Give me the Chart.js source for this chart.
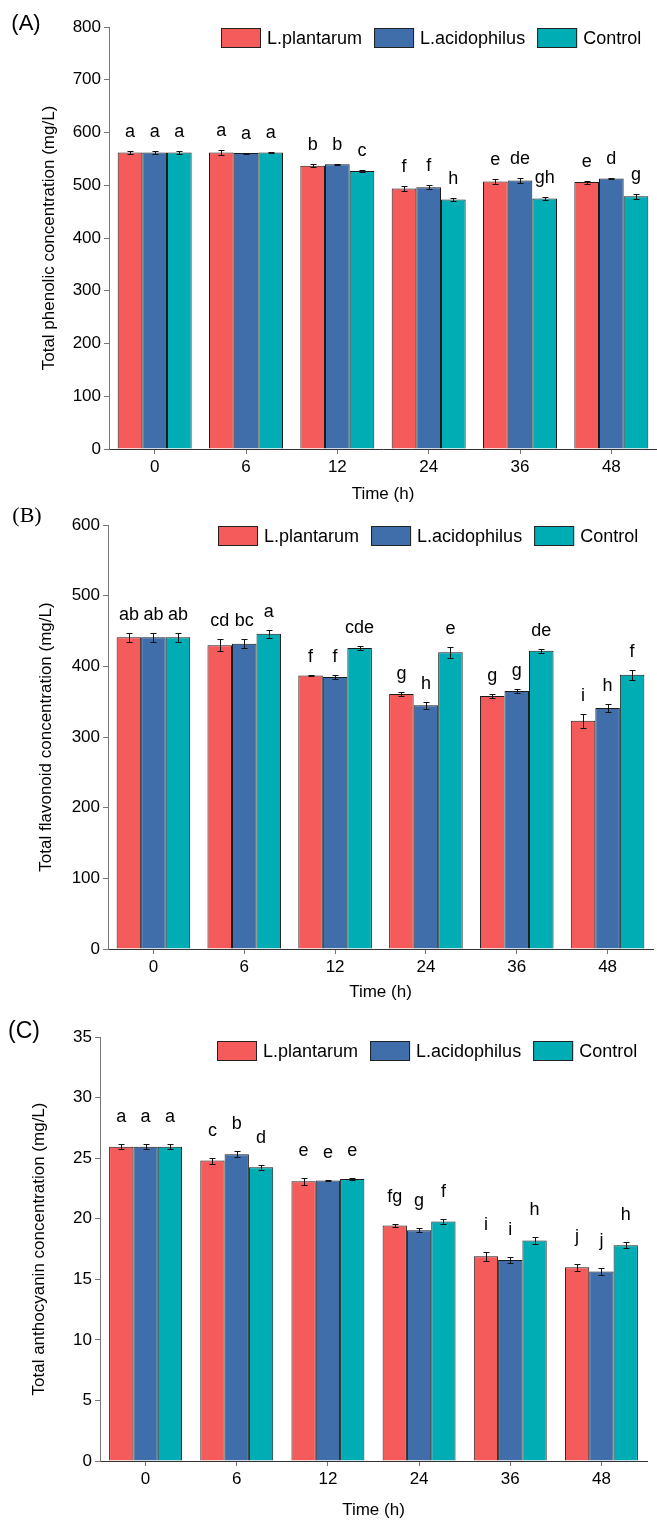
<!DOCTYPE html>
<html>
<head>
<meta charset="utf-8">
<title>Phenolic, flavonoid and anthocyanin concentration</title>
<script src="https://cdn.jsdelivr.net/npm/chart.js@4.4.1/dist/chart.umd.min.js"></script>
<style>
  body { margin: 0; background: #fff; }
  .panel { position: absolute; left: 0; }
</style>
</head>
<body>
<div class="panel" style="top:0px"><canvas id="chartA" width="657" height="505"></canvas></div>
<div class="panel" style="top:505px"><canvas id="chartB" width="657" height="500"></canvas></div>
<div class="panel" style="top:1005px"><canvas id="chartC" width="657" height="516"></canvas></div>

<script>
// categories + series
const times = ['0', '6', '12', '24', '36', '48'];
const seriesNames = ['L.plantarum', 'L.acidophilus', 'Control'];
const seriesColors = ['#F65B5C', '#3F6EAB', '#00ADB5'];

// (A) total phenolic, mg/L
const phenolPlantarum = [562, 562, 537, 494, 507, 506];
const phenolAcidophilus = [562, 561, 540, 496, 509, 513];
const phenolControl = [562, 562, 527, 473, 475, 479];
const phenolPlantarumErr = [2, 5, 3, 4, 4, 3];
const phenolAcidophilusErr = [2, 1, 1, 4, 5, 1];
const phenolControlErr = [2, 1, 1, 3, 3, 5];
const phenolPlantarumLetters = ['a', 'a', 'b', 'f', 'e', 'e'];
const phenolAcidophilusLetters = ['a', 'a', 'b', 'f', 'de', 'd'];
const phenolControlLetters = ['a', 'a', 'c', 'h', 'gh', 'g'];

// (B) total flavonoid, mg/L
const flavPlantarum = [441, 430, 387, 361, 358, 323];
const flavAcidophilus = [441, 432, 385, 345, 365, 341];
const flavControl = [441, 446, 426, 420, 422, 388];
const flavPlantarumErr = [6, 8, 0.5, 3, 3, 10];
const flavAcidophilusErr = [6, 6, 3, 5, 3, 5];
const flavControlErr = [6, 6, 3, 8, 3, 7];
const flavPlantarumLetters = ['ab', 'cd', 'f', 'g', 'g', 'i'];
const flavAcidophilusLetters = ['ab', 'bc', 'f', 'h', 'g', 'h'];
const flavControlLetters = ['ab', 'a', 'cde', 'e', 'de', 'f'];

// (C) total anthocyanin, mg/L
const anthoPlantarum = [25.95, 24.8, 23.1, 19.45, 16.9, 16.0];
const anthoAcidophilus = [25.95, 25.33, 23.15, 19.05, 16.6, 15.65];
const anthoControl = [25.95, 24.25, 23.28, 19.78, 18.2, 17.8];
const anthoPlantarumErr = [0.2, 0.25, 0.3, 0.1, 0.35, 0.3];
const anthoAcidophilusErr = [0.2, 0.25, 0.05, 0.15, 0.25, 0.3];
const anthoControlErr = [0.2, 0.2, 0.12, 0.22, 0.25, 0.25];
const anthoPlantarumLetters = ['a', 'c', 'e', 'fg', 'i', 'j'];
const anthoAcidophilusLetters = ['a', 'b', 'e', 'g', 'i', 'j'];
const anthoControlLetters = ['a', 'd', 'e', 'f', 'h', 'h'];

const FONT = "'Liberation Sans', Arial, sans-serif";
const W = 657;

// error bars, significance letters, legend and panel tag
const extrasPlugin = {
  id: 'panelExtras',
  afterDatasetsDraw(chart, args, opts) {
    const ctx = chart.ctx;
    const yScale = chart.scales.y;
    ctx.save();

    chart.data.datasets.forEach((ds, i) => {
      const meta = chart.getDatasetMeta(i);
      meta.data.forEach((bar, j) => {
        const v = ds.data[j];
        const e = opts.errors[i][j];
        const yHi = Math.round(yScale.getPixelForValue(v + e)) + 0.5;
        const yLo = Math.round(yScale.getPixelForValue(v - e)) + 0.5;
        const x = Math.round(bar.x) + 0.5;
        ctx.strokeStyle = '#111';
        ctx.lineWidth = 1;
        ctx.beginPath();
        ctx.moveTo(x, yHi); ctx.lineTo(x, yLo);
        ctx.moveTo(x - 3, yHi); ctx.lineTo(x + 3, yHi);
        ctx.moveTo(x - 3, yLo); ctx.lineTo(x + 3, yLo);
        ctx.stroke();

        ctx.fillStyle = '#000';
        ctx.font = '18px ' + FONT;
        ctx.textAlign = 'center';
        ctx.textBaseline = 'alphabetic';
        ctx.fillText(opts.letters[i][j], bar.x, yHi - opts.letterGap);
      });
    });

    // legend
    let lx = opts.legendX;
    const ly = opts.legendY;
    ctx.font = '18px ' + FONT;
    ctx.textAlign = 'left';
    ctx.textBaseline = 'middle';
    seriesNames.forEach((name, i) => {
      ctx.fillStyle = seriesColors[i];
      ctx.fillRect(lx, ly, 40, 20);
      ctx.strokeStyle = '#222';
      ctx.strokeRect(lx + 0.5, ly + 0.5, 39, 19);
      ctx.fillStyle = '#000';
      ctx.fillText(name, lx + 46, ly + 11);
      lx += 46 + ctx.measureText(name).width + 12;
    });

    // panel tag
    ctx.font = opts.tagFont;
    ctx.textAlign = 'center';
    ctx.textBaseline = 'middle';
    ctx.fillStyle = '#000';
    ctx.fillText(opts.tag, opts.tagX, opts.tagY);

    ctx.restore();
  }
};

function makeChart(canvasId, spec) {
  const H = document.getElementById(canvasId).height;
  const datasets = spec.values.map((vals, i) => ({
    label: seriesNames[i],
    data: vals,
    backgroundColor: seriesColors[i],
    borderColor: '#1b1b1b',
    borderWidth: 1,
    barPercentage: 1.0,
    categoryPercentage: spec.catPct
  }));
  const tickFont = { family: FONT, size: 17 };
  const titleFont = { family: FONT, size: 17 };

  return new Chart(document.getElementById(canvasId), {
    type: 'bar',
    data: { labels: times, datasets: datasets },
    options: {
      responsive: false,
      animation: false,
      devicePixelRatio: 1,
      layout: { padding: { top: spec.area.top, right: W - spec.area.right, left: 0, bottom: 0 } },
      plugins: {
        legend: { display: false },
        tooltip: { enabled: false },
        panelExtras: {
          errors: spec.errors,
          letters: spec.letters,
          letterGap: spec.letterGap,
          legendX: spec.legendX,
          legendY: spec.legendY,
          tag: spec.tag,
          tagFont: spec.tagFont,
          tagX: spec.tagX,
          tagY: spec.tagY
        }
      },
      scales: {
        x: {
          grid: { offset: false, drawOnChartArea: false, drawTicks: true, tickLength: 5, color: '#777' },
          border: { color: '#333', width: 1 },
          ticks: { color: '#000', font: tickFont, padding: 3, maxRotation: 0 },
          title: { display: true, text: 'Time (h)', color: '#000', font: titleFont, padding: { top: 0, bottom: spec.xTitlePad } },
          afterFit: s => { s.height = H - spec.area.bottom; }
        },
        y: {
          min: 0,
          max: spec.yMax,
          ticks: { stepSize: spec.yStep, color: '#000', font: tickFont, padding: 3 },
          grid: { drawOnChartArea: false, drawTicks: true, tickLength: 5, color: '#777' },
          border: { color: '#777', width: 1 },
          title: { display: true, text: spec.yTitle, color: '#000', font: titleFont, padding: { top: spec.yTitleX - 10.2, bottom: 0 } },
          afterFit: s => { s.width = spec.area.left; }
        }
      }
    },
    plugins: [extrasPlugin]
  });
}

makeChart('chartA', {
  values: [phenolPlantarum, phenolAcidophilus, phenolControl],
  errors: [phenolPlantarumErr, phenolAcidophilusErr, phenolControlErr],
  letters: [phenolPlantarumLetters, phenolAcidophilusLetters, phenolControlLetters],
  yMax: 800, yStep: 100,
  yTitle: 'Total phenolic concentration (mg/L)',
  area: { left: 109, right: 657, top: 27, bottom: 449 },
  catPct: 0.81,
  yTitleX: 49,
  xTitlePad: 0,
  letterGap: 15,
  legendX: 221, legendY: 28,
  tag: '(A)', tagFont: '22px ' + FONT, tagX: 26, tagY: 24
});

makeChart('chartB', {
  values: [flavPlantarum, flavAcidophilus, flavControl],
  errors: [flavPlantarumErr, flavAcidophilusErr, flavControlErr],
  letters: [flavPlantarumLetters, flavAcidophilusLetters, flavControlLetters],
  yMax: 600, yStep: 100,
  yTitle: 'Total flavonoid concentration (mg/L)',
  area: { left: 108, right: 653, top: 20, bottom: 444 },
  catPct: 0.81,
  yTitleX: 46,
  xTitlePad: 2,
  letterGap: 14,
  legendX: 218, legendY: 21,
  tag: '(B)', tagFont: "22px 'Liberation Serif', 'Times New Roman', serif", tagX: 27, tagY: 11
});

makeChart('chartC', {
  values: [anthoPlantarum, anthoAcidophilus, anthoControl],
  errors: [anthoPlantarumErr, anthoAcidophilusErr, anthoControlErr],
  letters: [anthoPlantarumLetters, anthoAcidophilusLetters, anthoControlLetters],
  yMax: 35, yStep: 5,
  yTitle: 'Total anthocyanin concentration (mg/L)',
  area: { left: 100, right: 647, top: 32, bottom: 456 },
  catPct: 0.80,
  yTitleX: 39,
  xTitlePad: 0,
  letterGap: 23,
  legendX: 217, legendY: 36,
  tag: '(C)', tagFont: '23px ' + FONT, tagX: 24, tagY: 27
});
</script>
</body>
</html>
